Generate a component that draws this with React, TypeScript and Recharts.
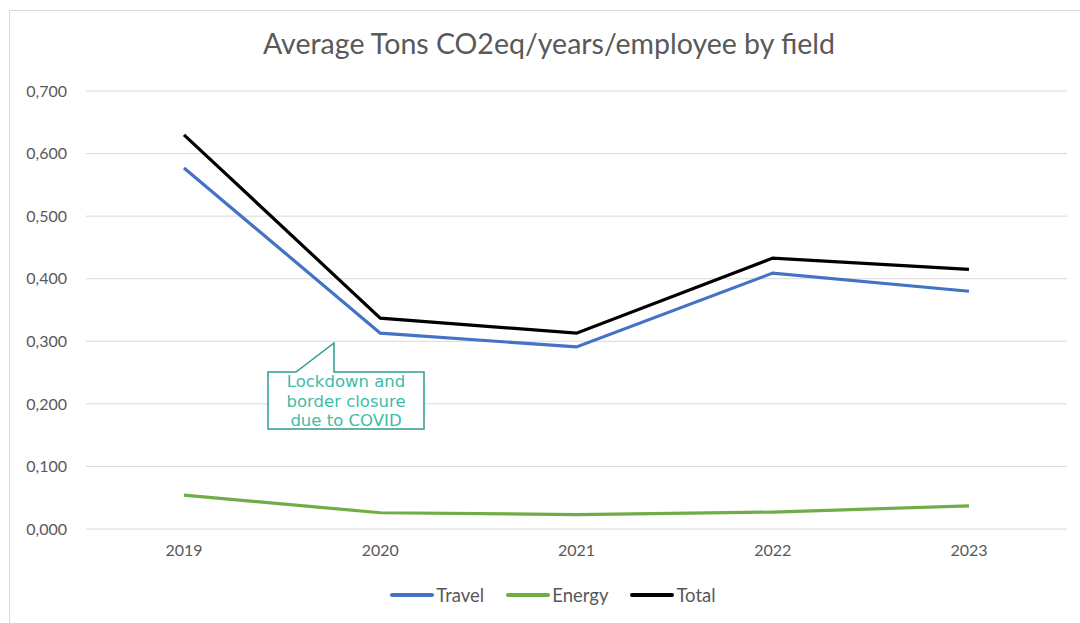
import { CartesianGrid, Line, LineChart, XAxis, YAxis } from "recharts";

const years = ["2019", "2020", "2021", "2022", "2023"];
const travel = [0.577, 0.313, 0.291, 0.409, 0.38];
const energy = [0.054, 0.026, 0.023, 0.027, 0.037];
const total = [0.63, 0.337, 0.313, 0.433, 0.415];
const yTicks = [0, 0.1, 0.2, 0.3, 0.4, 0.5, 0.6, 0.7];

const series = [
  { key: "travel", name: "Travel", color: "#4472C4" },
  { key: "energy", name: "Energy", color: "#70AD47" },
  { key: "total", name: "Total", color: "#000000" },
];

const data = years.map((year, i) => ({
  year,
  travel: travel[i],
  energy: energy[i],
  total: total[i],
}));

const fmt = (v: number) => v.toFixed(3).replace(".", ",");

const tickStyle = { fill: "#595959", fontSize: 16, fontFamily: "Lato, 'Open Sans', sans-serif" };

export default function App() {
  return (
    <div
      style={{
        position: "absolute",
        left: 0,
        top: 0,
        width: 1080,
        height: 623,
        background: "#fff",
        overflow: "hidden",
      }}
    >
      {/* frame (only top and left edges show) */}
      <div
        style={{
          position: "absolute",
          left: 9,
          top: 10,
          width: 1080,
          height: 623,
          borderTop: "1px solid #d9d9d9",
          borderLeft: "1px solid #d9d9d9",
        }}
      />

      <div
        style={{
          position: "absolute",
          top: 26,
          left: 0,
          width: 1098,
          textAlign: "center",
          fontFamily: "Lato, sans-serif",
          fontWeight: 400,
          fontSize: 28.5,
          color: "#595959",
        }}
      >
        Average Tons CO2eq/years/employee by field
      </div>

      <div style={{ position: "absolute", left: 0, top: 0 }}>
        <LineChart
          width={1080}
          height={623}
          data={data}
          margin={{ top: 91, right: 13, bottom: 64, left: 0 }}
        >
          <CartesianGrid vertical={false} stroke="#d9d9d9" strokeWidth={1} />
          <XAxis
            dataKey="year"
            axisLine={false}
            tickLine={false}
            tickSize={0}
            tickMargin={16}
            height={30}
            padding={{ left: 98, right: 98 }}
            tick={tickStyle}
          />
          <YAxis
            domain={[0, 0.7]}
            ticks={yTicks}
            tickFormatter={fmt}
            axisLine={false}
            tickLine={false}
            tickSize={0}
            tickMargin={19}
            width={86}
            tick={tickStyle}
          />
          {series.map((s) => (
            <Line
              key={s.key}
              type="linear"
              dataKey={s.key}
              name={s.name}
              stroke={s.color}
              strokeWidth={3.2}
              dot={false}
              activeDot={false}
              isAnimationActive={false}
            />
          ))}
        </LineChart>
      </div>

      {/* callout */}
      <svg
        width={1080}
        height={623}
        style={{ position: "absolute", left: 0, top: 0, pointerEvents: "none" }}
      >
        <polygon
          points="268,372 296,372 334,343 334,372 424,372 424,429 268,429"
          fill="#fff"
          stroke="#2E9C8A"
          strokeWidth={1.5}
        />
      </svg>
      <div
        style={{
          position: "absolute",
          left: 268,
          top: 372,
          width: 156,
          textAlign: "center",
          fontFamily: "'DejaVu Sans', sans-serif",
          fontSize: 16.5,
          lineHeight: "19.5px",
          color: "#3DBCA6",
        }}
      >
        Lockdown and
        <br />
        border closure
        <br />
        due to COVID
      </div>

      {/* legend */}
      <div
        style={{
          position: "absolute",
          top: 584,
          left: 0,
          width: 1106,
          display: "flex",
          justifyContent: "center",
          gap: 22,
          fontFamily: "Lato, sans-serif",
          fontSize: 18.5,
          color: "#595959",
        }}
      >
        {series.map((s) => (
          <div key={s.key} style={{ display: "flex", alignItems: "center" }}>
            <div
              style={{
                width: 44,
                height: 3.5,
                borderRadius: 2,
                background: s.color,
                marginRight: 2,
              }}
            />
            <span>{s.name}</span>
          </div>
        ))}
      </div>
    </div>
  );
}
